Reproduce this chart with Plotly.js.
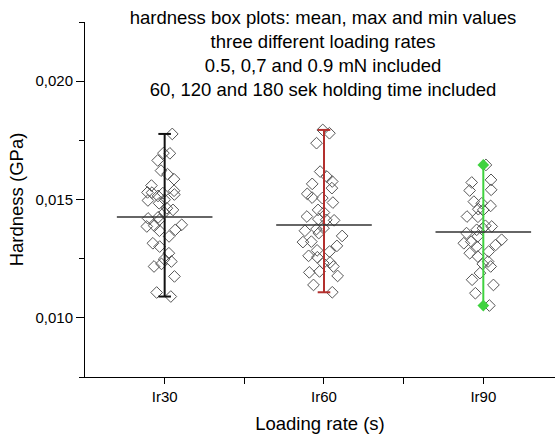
<!DOCTYPE html>
<html><head><meta charset="utf-8">
<script src="https://cdn.plot.ly/plotly-3.0.1.min.js"></script>
<style>html,body{margin:0;padding:0;background:#fff}#chart{width:555px;height:437px}</style>
</head><body><div id="chart"></div>
<script>
const categories = ['Ir30', 'Ir60', 'Ir90'];
const hardnessIr30 = [0.01777, 0.01696, 0.01695, 0.01665, 0.01622, 0.01607, 0.01586, 0.01559, 0.01537, 0.01515,
  0.01527, 0.01530, 0.01529, 0.01521, 0.01499, 0.01496, 0.01484, 0.01456, 0.01463, 0.01445,
  0.01425, 0.01420, 0.01414, 0.01386, 0.01389, 0.01372, 0.01393, 0.01368, 0.01344, 0.01315,
  0.01301, 0.01273, 0.01248, 0.01228, 0.01238, 0.01217, 0.01175, 0.01107, 0.01090];
const hardnessIr60 = [0.01794, 0.01780, 0.01738, 0.01618, 0.01597, 0.01576, 0.01566, 0.01548, 0.01524, 0.01508,
  0.01506, 0.01487, 0.01456, 0.01445, 0.01428, 0.01417, 0.01414, 0.01412, 0.01375, 0.01379,
  0.01358, 0.01368, 0.01346, 0.01322, 0.01320, 0.01304, 0.01280, 0.01285, 0.01262, 0.01256,
  0.01234, 0.01217, 0.01231, 0.01192, 0.01196, 0.01177, 0.01139, 0.01108];
const hardnessIr90 = [0.01646, 0.01583, 0.01572, 0.01541, 0.01538, 0.01491, 0.01473, 0.01484, 0.01459, 0.01456,
  0.01428, 0.01427, 0.01389, 0.01386, 0.01372, 0.01379, 0.01358, 0.01344, 0.01315, 0.01330,
  0.01322, 0.01308, 0.01301, 0.01280, 0.01273, 0.01259, 0.01238, 0.01228, 0.01217, 0.01189,
  0.01161, 0.01139, 0.01104, 0.01052];
const meanValues = [0.01426, 0.01392, 0.01363];
const yTickVals = [0.010, 0.015, 0.020];
const yTickText = ['0,010', '0,015', '0,020'];

const groups = [hardnessIr30, hardnessIr60, hardnessIr90];
const rangeColors = ['#111111', '#b3302e', '#3fd23f'];
const traces = [];
groups.forEach((vals, i) => {
  traces.push({
    type: 'box', y: vals, x: vals.map(() => i), boxpoints: 'all', jitter: 0.95, pointpos: 0,
    width: 0.3, line: {width: 0, color: 'rgba(0,0,0,0)'}, fillcolor: 'rgba(0,0,0,0)',
    marker: {symbol: 'diamond-open', size: 9, color: '#555555', line: {width: 1}},
    showlegend: false, hoverinfo: 'y'
  });
});
groups.forEach((vals, i) => {
  const lo = Math.min(...vals), hi = Math.max(...vals);
  traces.push({
    type: 'scatter', mode: 'lines+markers', x: [i, i], y: [lo, hi],
    line: {color: rangeColors[i], width: 2},
    marker: i === 2 ? {symbol: 'diamond', size: 9, color: rangeColors[i]}
                    : {symbol: 'line-ew', size: 9, color: rangeColors[i], line: {width: 2, color: rangeColors[i]}},
    showlegend: false, hoverinfo: 'y'
  });
  traces.push({
    type: 'scatter', mode: 'lines', x: [i - 0.3, i + 0.3], y: [meanValues[i], meanValues[i]],
    line: {color: '#333333', width: 1.5}, showlegend: false, hoverinfo: 'y'
  });
});

const layout = {
  width: 555, height: 437,
  margin: {l: 85, r: 0, t: 22, b: 60},
  paper_bgcolor: '#ffffff', plot_bgcolor: '#ffffff', showlegend: false,
  font: {family: '"Liberation Sans", Arial, sans-serif', color: '#000000'},
  title: {
    text: 'hardness box plots: mean, max and min values<br>three different loading rates<br>0.5, 0,7 and 0.9 mN included<br>60, 120 and 180 sek holding time included',
    font: {size: 18.5, color: '#000000'},
    xref: 'container', x: 0.582, xanchor: 'center',
    yref: 'container', y: 0.945, yanchor: 'top'
  },
  xaxis: {
    range: [-0.5, 2.45], tickvals: [0, 1, 2], ticktext: categories,
    ticks: 'outside', ticklen: 6, tickwidth: 1, tickcolor: '#000',
    showline: true, linecolor: '#000', linewidth: 1, showgrid: false, zeroline: false,
    tickfont: {size: 15},
    minor: {tickvals: [0.5, 1.5], ticks: 'outside', ticklen: 6, tickcolor: '#000'},
    title: {text: 'Loading rate (s)', font: {size: 18.5}, standoff: 13}
  },
  yaxis: {
    range: [0.0075, 0.0225], tickvals: yTickVals, ticktext: yTickText,
    ticks: 'outside', ticklen: 8, tickwidth: 1, tickcolor: '#000',
    showline: true, linecolor: '#000', linewidth: 1, showgrid: false, zeroline: false,
    tickfont: {size: 15},
    minor: {tick0: 0, dtick: 0.0025, ticks: 'outside', ticklen: 5, tickcolor: '#000'},
    title: {text: 'Hardness (GPa)', font: {size: 18.5}, standoff: 6}
  }
};
Plotly.newPlot('chart', traces, layout, {displayModeBar: false, staticPlot: true});
</script></body></html>
